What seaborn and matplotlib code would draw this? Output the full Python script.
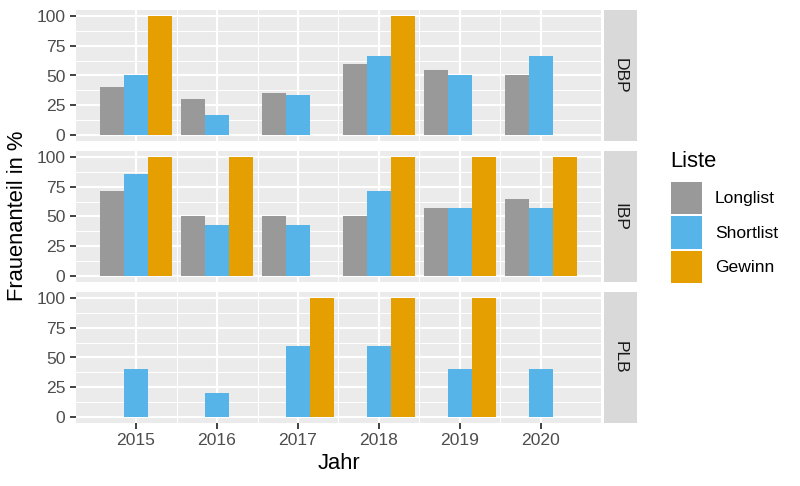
import numpy as np
import pandas as pd
import matplotlib
matplotlib.use("Agg")
import matplotlib.pyplot as plt
import seaborn as sns
from matplotlib.patches import Patch

# ---- data ----
years = [2015, 2016, 2017, 2018, 2019, 2020]
preise = ["DBP", "IBP", "PLB"]
listen = ["Longlist", "Shortlist", "Gewinn"]
nan = np.nan
dbp_long = [40, 30, 35, 60, 55, 50]
dbp_short = [50, 16.7, 33.3, 66.7, 50, 66.7]
dbp_win = [100, nan, nan, 100, nan, nan]
ibp_long = [71.4, 50, 50, 50, 57.1, 64.3]
ibp_short = [85.7, 42.9, 42.9, 71.4, 57.1, 57.1]
ibp_win = [100, 100, nan, 100, 100, 100]
plb_long = [nan, nan, nan, nan, nan, nan]
plb_short = [40, 20, 60, 60, 40, 40]
plb_win = [nan, nan, 100, 100, 100, nan]
colors = ["#999999", "#56B4E9", "#E69F00"]
y_ticks = [0, 25, 50, 75, 100]

series = {
    "DBP": [dbp_long, dbp_short, dbp_win],
    "IBP": [ibp_long, ibp_short, ibp_win],
    "PLB": [plb_long, plb_short, plb_win],
}
rows = []
for p in preise:
    for liste, vals in zip(listen, series[p]):
        for yr, v in zip(years, vals):
            rows.append({"Preis": p, "Liste": liste, "Jahr": yr, "Anteil": v})
df = pd.DataFrame(rows).dropna()

# ---- figure ----
plt.rcParams["font.family"] = ["Liberation Sans", "DejaVu Sans"]
W, H = 800, 486
fig = plt.figure(figsize=(W / 100, H / 100), dpi=100)


def rect(l, t, w, h):
    return [l / W, 1 - (t + h) / H, w / W, h / H]


p_left, p_width, p_height = 75.7, 525.6, 131
tops = [10, 151, 292]
tick_col = "#333333"
text_col = "#4D4D4D"

for i, p in enumerate(preise):
    ax = fig.add_axes(rect(p_left, tops[i], p_width, p_height))
    sub = df[df["Preis"] == p]
    sns.barplot(data=sub, x="Jahr", y="Anteil", hue="Liste", hue_order=listen,
                order=years, palette=colors, width=0.9, saturation=1,
                linewidth=0, errorbar=None, legend=False, ax=ax)
    ax.set_facecolor("#EBEBEB")
    ax.set_xlim(-0.745, 5.745)
    ax.set_ylim(-5, 105)
    ax.set_yticks(y_ticks)
    ax.set_yticks([12.5, 37.5, 62.5, 87.5], minor=True)
    ax.set_xticks(range(len(years)))
    ax.set_xticks([0.5, 1.5, 2.5, 3.5, 4.5], minor=True)
    ax.grid(which="major", color="white", lw=1.55)
    ax.grid(which="minor", color="white", lw=0.75)
    ax.set_axisbelow(True)
    for s in ax.spines.values():
        s.set_visible(False)
    ax.tick_params(which="minor", length=0)
    ax.tick_params(which="major", length=4, width=1.3, color=tick_col,
                   labelsize=12.6, labelcolor=text_col, pad=3.4)
    ax.set_yticklabels([str(t) for t in y_ticks])
    if i < 2:
        ax.tick_params(axis="x", which="major", length=0, labelbottom=False)
    else:
        ax.set_xticklabels([str(y) for y in years])
    ax.set_xlabel("")
    ax.set_ylabel("")

    sax = fig.add_axes(rect(603.5, tops[i], 33.5, p_height))
    sax.set_facecolor("#D9D9D9")
    sax.set_xticks([])
    sax.set_yticks([])
    for s in sax.spines.values():
        s.set_visible(False)
    sax.text(0.5, 0.5, p, rotation=270, ha="center", va="center",
             fontsize=12.6, color="#1A1A1A", transform=sax.transAxes)

fig.text(338.5 / W, 1 - 463 / H, "Jahr", ha="center", va="center",
         fontsize=15.8, color="black")
fig.text(18 / W, 1 - 216 / H, "Frauenanteil in %", ha="center", va="center",
         rotation=90, fontsize=15.8, color="black")

# legend
fig.text(670 / W, 1 - 167 / H, "Liste", ha="left", va="baseline",
         fontsize=15.8, color="black")
handles = [Patch(facecolor=c, edgecolor="none") for c in colors]
leg = fig.legend(handles, listen, loc="upper left",
                 bbox_to_anchor=(671 / W, 1 - 182 / H), frameon=False,
                 fontsize=12.6, handlelength=1.77,
                 handleheight=2.44, labelspacing=0.14, handletextpad=0.74,
                 borderpad=0, borderaxespad=0)

fig.savefig("out.png", dpi=100)
